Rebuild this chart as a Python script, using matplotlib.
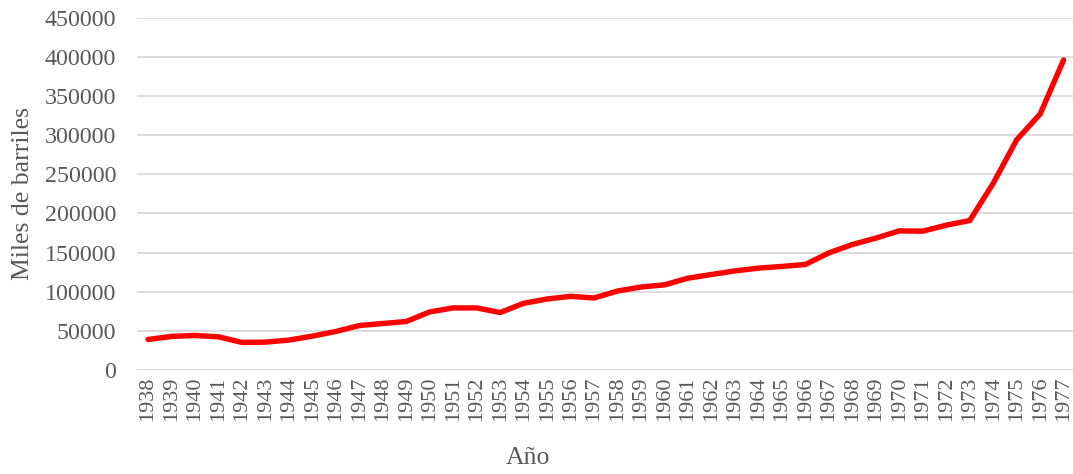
import numpy as np
import matplotlib
matplotlib.use("Agg")
import matplotlib.pyplot as plt

# produccion anual (miles de barriles)
anios = list(range(1938, 1978))
barriles = [39000, 42900, 44100, 42400, 35200, 35600, 38200, 43300, 49200, 56800,
            59400, 62000, 74200, 79300, 79300, 73400, 85200, 90700, 94100, 92000,
            100900, 106000, 108800, 117300, 122000, 126600, 130100, 132300, 134800, 149600,
            160300, 168400, 177700, 177300, 185000, 190900, 238400, 294000, 327000, 396000]

yticks = np.arange(0, 450001, 50000)

plt.rcParams['font.family'] = ['Liberation Serif', 'DejaVu Serif']

fig = plt.figure(figsize=(10.73, 4.74), dpi=100)
ax = fig.add_axes([137/1073, 1 - 370/474, 1 - 137/1073, (370 - 17.7)/474])

x = np.arange(len(anios))
ax.plot(x, barriles, color='#ff0000', linewidth=3.9, solid_capstyle='round', zorder=3)

ax.set_ylim(0, 450000)
ax.set_xlim(-0.47, len(anios) - 0.6)
ax.set_yticks(yticks)
ax.set_yticklabels([str(v) for v in yticks], fontsize=17.3, color='#595959')
ax.set_xticks(x)
ax.set_xticklabels([str(a) for a in anios], rotation=90, fontsize=16, color='#595959')
ax.tick_params(axis='both', length=0)
ax.tick_params(axis='y', pad=15)
ax.tick_params(axis='x', pad=5)

ax.grid(axis='y', color='#d9d9d9', linewidth=1.3)
ax.set_axisbelow(True)
for s in ax.spines.values():
    s.set_visible(False)

fig.text(528/1073, 1 - 458/474, "Año", ha='center', va='center', fontsize=18.5, color='#595959')
fig.text(23/1073, 1 - 194/474, "Miles de barriles", ha='center', va='center', rotation=90,
         fontsize=18.5, color='#595959')

fig.savefig("out.png", dpi=100)
